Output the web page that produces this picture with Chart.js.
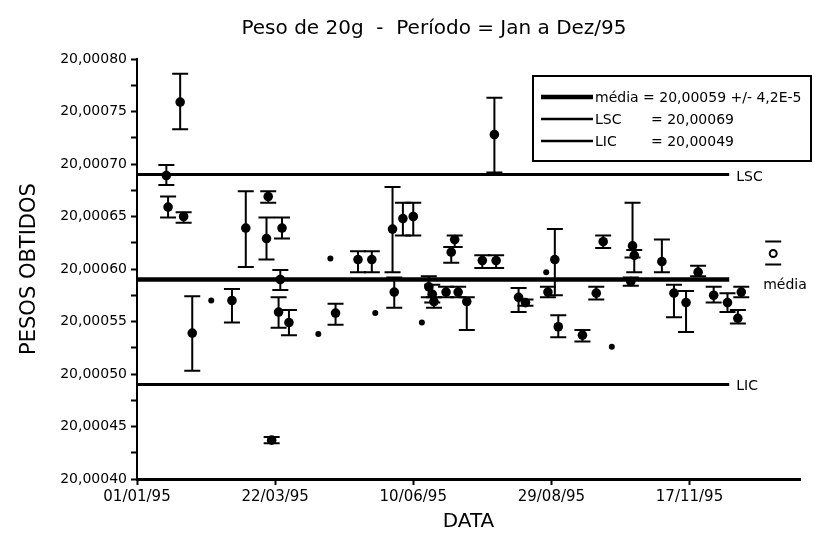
<!DOCTYPE html>
<html>
<head>
<meta charset="utf-8">
<script src="https://cdn.jsdelivr.net/npm/chart.js@4.4.1/dist/chart.umd.min.js"></script>
<style>
  html, body { margin: 0; padding: 0; background: #fff; }
  #wrap { width: 814px; height: 536px; }
</style>
</head>
<body>
<div id="wrap"><canvas id="grafico" width="814" height="536"></canvas></div>
<script>
// Pesagens do peso padrão de 20 g ao longo de 1995
const DATAS = [
  '18/01/95','19/01/95','26/01/95','28/01/95','02/02/95','13/02/95','25/02/95','05/03/95',
  '17/03/95','18/03/95','20/03/95','24/03/95','25/03/95','26/03/95','30/03/95','16/04/95',
  '23/04/95','26/04/95','09/05/95','17/05/95','19/05/95','29/05/95','30/05/95','04/06/95',
  '10/06/95','15/06/95','19/06/95','21/06/95','22/06/95','29/06/95','02/07/95','04/07/95',
  '06/07/95','11/07/95','20/07/95','27/07/95','28/07/95','10/08/95','14/08/95','26/08/95',
  '27/08/95','31/08/95','02/09/95','16/09/95','24/09/95','28/09/95','03/10/95','14/10/95',
  '15/10/95','16/10/95','01/11/95','08/11/95','15/11/95','22/11/95','01/12/95','09/12/95',
  '15/12/95','17/12/95'
];
const PESOS = [
  20.000689,20.000659,20.000759,20.000650,20.000539,20.000570,20.000570,20.000639,
  20.000629,20.000669,20.000437,20.000559,20.000590,20.000639,20.000549,20.000538,
  20.000610,20.000558,20.000609,20.000609,20.000558,20.000638,20.000578,20.000648,
  20.000650,20.000549,20.000583,20.000576,20.000569,20.000578,20.000616,20.000628,
  20.000578,20.000569,20.000608,20.000728,20.000608,20.000573,20.000568,20.000597,
  20.000578,20.000609,20.000545,20.000537,20.000577,20.000626,20.000526,20.000588,
  20.000622,20.000613,20.000607,20.000577,20.000568,20.000597,20.000575,20.000568,
  20.000553,20.000578
];
// limites superior e inferior de cada barra de erro
const PESOS_MAX = [
  20.000699,20.000669,20.000786,20.000654,20.000574,20.000570,20.000581,20.000674,
  20.000649,20.000674,20.000440,20.000573,20.000599,20.000649,20.000561,20.000538,
  20.000610,20.000567,20.000617,20.000617,20.000558,20.000678,20.000592,20.000663,
  20.000663,20.000549,20.000593,20.000585,20.000573,20.000583,20.000621,20.000632,
  20.000583,20.000573,20.000613,20.000763,20.000613,20.000582,20.000571,20.000597,
  20.000583,20.000638,20.000556,20.000542,20.000583,20.000632,20.000526,20.000592,
  20.000663,20.000618,20.000628,20.000585,20.000579,20.000603,20.000583,20.000577,
  20.000561,20.000583
];
const PESOS_MIN = [
  20.000680,20.000649,20.000733,20.000644,20.000503,20.000570,20.000549,20.000602,
  20.000609,20.000663,20.000434,20.000544,20.000580,20.000629,20.000537,20.000538,
  20.000610,20.000547,20.000597,20.000597,20.000558,20.000597,20.000563,20.000632,
  20.000632,20.000549,20.000573,20.000568,20.000563,20.000573,20.000606,20.000621,
  20.000573,20.000542,20.000601,20.000692,20.000601,20.000559,20.000565,20.000597,
  20.000573,20.000575,20.000535,20.000531,20.000571,20.000620,20.000526,20.000584,
  20.000611,20.000597,20.000597,20.000554,20.000540,20.000593,20.000568,20.000559,
  20.000548,20.000573
];

const MEDIA = 20.00059;
const LSC = 20.00069;
const LIC = 20.00049;
const DESVIO = '4,2E-5';

const DATAS_EIXO = ['01/01/95','22/03/95','10/06/95','29/08/95','17/11/95'];
const FIM_EIXO = '20/01/96';
const FIM_LIMITES = '10/12/95';
const Y_MIN = 20.0004, Y_MAX = 20.0008, Y_PASSO = 0.000025;

const FONTE = "'DejaVu Sans', 'Liberation Sans', sans-serif";

// dias decorridos desde 01/01/95
function dia(s) {
  const [d, m, a] = s.split('/').map(Number);
  return (Date.UTC(1900 + a, m - 1, d) - Date.UTC(1995, 0, 1)) / 86400000;
}
const fmt = v => v.toFixed(5).replace('.', ',');

const pontos = DATAS.map((d, i) => ({ x: dia(d), y: PESOS[i] }));
const semBarra = i => PESOS_MAX[i] === PESOS_MIN[i];
const fimLim = dia(FIM_LIMITES);

const linha = (y, w) => ({
  data: [{ x: 0, y: y }, { x: fimLim, y: y }],
  showLine: true, borderColor: '#000', borderWidth: w,
  pointRadius: 0, fill: false
});

const barrasErro = {
  id: 'barrasErro',
  afterDatasetsDraw(chart) {
    const { ctx, scales: { x, y } } = chart;
    ctx.save();
    ctx.strokeStyle = '#000';
    ctx.lineWidth = 2;
    DATAS.forEach((d, i) => {
      if (semBarra(i)) return;
      const px = x.getPixelForValue(dia(d));
      const yHi = y.getPixelForValue(PESOS_MAX[i]);
      const yLo = y.getPixelForValue(PESOS_MIN[i]);
      ctx.beginPath();
      ctx.moveTo(px, yHi); ctx.lineTo(px, yLo);
      ctx.moveTo(px - 8, yHi); ctx.lineTo(px + 8, yHi);
      ctx.moveTo(px - 8, yLo); ctx.lineTo(px + 8, yLo);
      ctx.stroke();
    });
    ctx.restore();
  }
};

const textos = {
  id: 'textos',
  afterDraw(chart) {
    const { ctx, scales: { x, y } } = chart;
    ctx.save();
    ctx.fillStyle = '#000';
    ctx.strokeStyle = '#000';
    ctx.textBaseline = 'middle';

    // título
    ctx.font = '20px ' + FONTE;
    ctx.textAlign = 'center';
    ctx.fillText('Peso de 20g  -  Período = Jan a Dez/95', 434, 29);

    // rótulos das linhas de controle
    const xf = x.getPixelForValue(fimLim);
    ctx.font = '14px ' + FONTE;
    ctx.textAlign = 'left';
    ctx.fillText('LSC', xf + 7, y.getPixelForValue(LSC) + 3);
    ctx.fillText('LIC', xf + 7, y.getPixelForValue(LIC) + 2);
    ctx.fillText('média', xf + 34, y.getPixelForValue(MEDIA) + 6);

    // símbolo da média com barra
    const sx = xf + 44, sy = y.getPixelForValue(MEDIA) - 26;
    ctx.lineWidth = 2;
    ctx.beginPath();
    ctx.moveTo(sx - 8, sy - 12); ctx.lineTo(sx + 8, sy - 12);
    ctx.moveTo(sx - 8, sy + 11); ctx.lineTo(sx + 8, sy + 11);
    ctx.stroke();
    ctx.beginPath();
    ctx.arc(sx, sy, 3.5, 0, Math.PI * 2);
    ctx.stroke();

    // caixa de legenda
    const bx = 533, by = 76, bw = 278, bh = 85;
    ctx.lineWidth = 2;
    ctx.strokeRect(bx, by, bw, bh);
    const linhas = [
      { w: 4.5, nome: 'média = ' + fmt(MEDIA) + ' +/- ' + DESVIO, valor: '' },
      { w: 2.5, nome: 'LSC', valor: '= ' + fmt(LSC) },
      { w: 2.5, nome: 'LIC', valor: '= ' + fmt(LIC) }
    ];
    linhas.forEach((l, k) => {
      const ly = by + 21 + k * 22;
      ctx.lineWidth = l.w;
      ctx.beginPath();
      ctx.moveTo(bx + 8, ly); ctx.lineTo(bx + 60, ly);
      ctx.stroke();
      ctx.fillText(l.nome, bx + 62, ly + 1);
      if (l.valor) ctx.fillText(l.valor, bx + 118, ly + 1);
    });
    ctx.restore();
  }
};

new Chart(document.getElementById('grafico'), {
  type: 'scatter',
  data: {
    datasets: [
      {
        data: pontos,
        backgroundColor: '#000',
        borderColor: '#000',
        pointRadius: c => semBarra(c.dataIndex) ? 3 : 4.8,
        pointBorderWidth: 0
      },
      linha(LSC, 3),
      linha(MEDIA, 4.5),
      linha(LIC, 3)
    ]
  },
  options: {
    responsive: false,
    devicePixelRatio: 1,
    animation: false,
    layout: { padding: { left: 0, top: 59, right: 14, bottom: 0 } },
    plugins: { legend: { display: false }, tooltip: { enabled: false }, title: { display: false } },
    scales: {
      x: {
        type: 'linear',
        min: 0,
        max: dia(FIM_EIXO),
        afterBuildTicks: s => { s.ticks = DATAS_EIXO.map(d => ({ value: dia(d) })); },
        afterFit: s => { s.height = 57; },
        ticks: {
          autoSkip: false, maxRotation: 0, padding: 3,
          color: '#000', font: { family: FONTE, size: 15 },
          callback: (v, i) => DATAS_EIXO[i]
        },
        grid: { drawOnChartArea: false, drawTicks: true, tickLength: 6, tickWidth: 2, color: '#000' },
        border: { color: '#000', width: 3 },
        title: {
          display: true, text: 'DATA', color: '#000',
          font: { family: FONTE, size: 20 }, padding: { top: 0, bottom: 2 }
        }
      },
      y: {
        type: 'linear',
        min: Y_MIN,
        max: Y_MAX,
        afterBuildTicks: s => {
          const n = Math.round((Y_MAX - Y_MIN) / Y_PASSO);
          s.ticks = Array.from({ length: n + 1 }, (_, i) => ({ value: Y_MIN + i * Y_PASSO }));
        },
        afterFit: s => { s.width = 137; },
        ticks: {
          autoSkip: false, padding: 4,
          color: '#000', font: { family: FONTE, size: 14 },
          callback: (v, i) => i % 2 === 0 ? fmt(v) : ''
        },
        grid: { drawOnChartArea: false, drawTicks: true, tickLength: 6, tickWidth: 2, color: '#000' },
        border: { color: '#000', width: 2 },
        title: {
          display: true, text: 'PESOS OBTIDOS', color: '#000',
          font: { family: FONTE, size: 21 }, padding: { top: 17, bottom: 0 }
        }
      }
    }
  },
  plugins: [barrasErro, textos]
});
</script>
</body>
</html>
